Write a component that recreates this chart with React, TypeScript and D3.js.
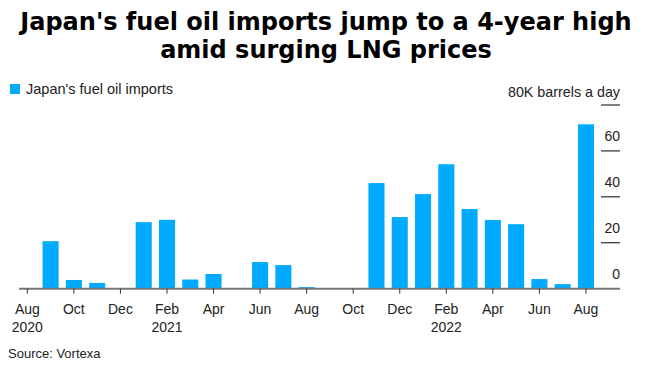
import React, { useEffect, useRef } from 'react';
import * as d3 from 'd3';

// months from Aug 2020 to Aug 2022
const months = [
  '2020-08', '2020-09', '2020-10', '2020-11', '2020-12',
  '2021-01', '2021-02', '2021-03', '2021-04', '2021-05', '2021-06', '2021-07', '2021-08',
  '2021-09', '2021-10', '2021-11', '2021-12',
  '2022-01', '2022-02', '2022-03', '2022-04', '2022-05', '2022-06', '2022-07', '2022-08',
];
// thousand barrels a day
const imports = [
  0, 20.7, 3.8, 2.5, 0,
  29, 30, 4, 6.4, 0, 11.6, 10.3, 0.7,
  0, 0.3, 46, 31.2,
  41.2, 54.2, 34.7, 29.9, 28.1, 4.2, 2, 71.6,
];
const yTicks = [0, 20, 40, 60, 80];
const tickMonths = ['2020-08', '2020-10', '2020-12', '2021-02', '2021-04', '2021-06', '2021-08',
  '2021-10', '2021-12', '2022-02', '2022-04', '2022-06', '2022-08'];
const monthNames = ['Jan', 'Feb', 'Mar', 'Apr', 'May', 'Jun', 'Jul', 'Aug', 'Sep', 'Oct', 'Nov', 'Dec'];
const yearLabels = { '2020-08': '2020', '2021-02': '2021', '2022-02': '2022' };

export default function App() {
  const ref = useRef(null);

  useEffect(() => {
    const svg = d3.select(ref.current);
    svg.selectAll('*').remove();

    const font = '"Liberation Sans", Arial, sans-serif';
    const blue = '#00aaff';

    const x = d3.scaleBand().domain(months).range([15.7, 597.6]).paddingInner(0.31).paddingOuter(0.155);
    const y = d3.scaleLinear().domain([0, 80]).range([288.7, 105]);

    // title
    const title = svg.append('text')
      .attr('text-anchor', 'middle')
      .attr('font-family', '"DejaVu Sans", sans-serif')
      .attr('font-weight', 'bold')
      .attr('font-size', 24)
      .attr('fill', '#000');
    title.append('tspan').attr('x', 326).attr('y', 30).text("Japan's fuel oil imports jump to a 4-year high");
    title.append('tspan').attr('x', 326).attr('y', 58).text('amid surging LNG prices');

    // legend
    svg.append('rect').attr('x', 10).attr('y', 84).attr('width', 10).attr('height', 10).attr('fill', blue);
    svg.append('text').attr('x', 26).attr('y', 94).attr('font-family', font).attr('font-size', 14.5)
      .attr('fill', '#222').text("Japan's fuel oil imports");

    svg.append('text').attr('x', 620).attr('y', 97).attr('text-anchor', 'end').attr('font-family', font)
      .attr('font-size', 14.3).attr('fill', '#222').text('80K barrels a day');

    // y ticks
    const yg = svg.append('g');
    yTicks.forEach(t => {
      if (t !== 0) {
        yg.append('line').attr('x1', 601).attr('x2', 620).attr('y1', y(t)).attr('y2', y(t))
          .attr('stroke', '#000').attr('stroke-width', 1);
      }
      if (t !== 80) {
        yg.append('text').attr('x', 620).attr('y', y(t) - 10).attr('text-anchor', 'end')
          .attr('font-family', font).attr('font-size', 14).attr('fill', '#222').text(t);
      }
    });

    // bars
    svg.append('g').selectAll('rect').data(months).join('rect')
      .attr('x', d => x(d))
      .attr('width', x.bandwidth())
      .attr('y', (d, i) => y(imports[i]))
      .attr('height', (d, i) => y(0) - y(imports[i]))
      .attr('fill', blue);

    // baseline
    svg.append('line').attr('x1', 19).attr('x2', 620).attr('y1', y(0)).attr('y2', y(0))
      .attr('stroke', '#777').attr('stroke-width', 2);

    // x ticks
    const xg = svg.append('g');
    tickMonths.forEach(m => {
      const cx = x(m) + x.bandwidth() / 2;
      xg.append('line').attr('x1', cx).attr('x2', cx).attr('y1', y(0)).attr('y2', y(0) + 5)
        .attr('stroke', '#333').attr('stroke-width', 1);
      xg.append('text').attr('x', cx).attr('y', 314).attr('text-anchor', 'middle')
        .attr('font-family', font).attr('font-size', 14).attr('fill', '#222')
        .text(monthNames[+m.slice(5) - 1]);
      if (yearLabels[m]) {
        xg.append('text').attr('x', cx).attr('y', 332).attr('text-anchor', 'middle')
          .attr('font-family', font).attr('font-size', 14).attr('fill', '#222').text(yearLabels[m]);
      }
    });

    svg.append('text').attr('x', 8).attr('y', 358).attr('font-family', font).attr('font-size', 13)
      .attr('fill', '#222').text('Source: Vortexa');
  }, []);

  return (
    <svg ref={ref} width={653} height={367} style={{ position: 'absolute', left: 0, top: 0, background: '#fff' }} />
  );
}
